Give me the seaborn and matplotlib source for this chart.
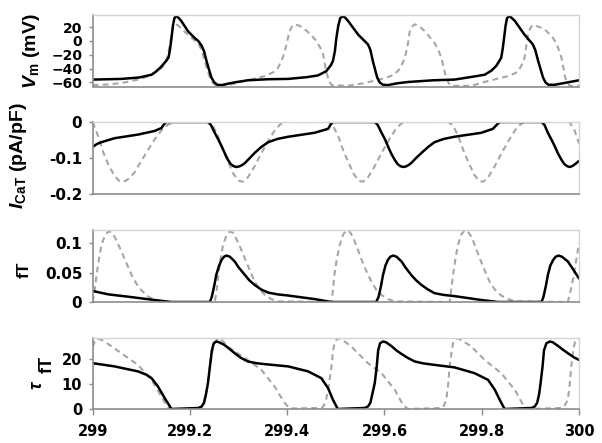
import numpy as np
import pandas as pd
import matplotlib
matplotlib.use("Agg")
import matplotlib.pyplot as plt
import seaborn as sns

# ---------------- data (time offsets in s after 299 s) ----------------
T0 = 299.0

vm_solid_t = [0.000, 0.059, 0.095, 0.121, 0.130, 0.140, 0.151, 0.156, 0.159, 0.162, 0.165, 0.168, 0.172,
              0.177, 0.182, 0.196, 0.210, 0.217, 0.224, 0.229, 0.234, 0.244, 0.250, 0.256, 0.265, 0.278,
              0.292, 0.319, 0.360, 0.402, 0.440, 0.463, 0.480, 0.490, 0.494, 0.498, 0.501, 0.505, 0.509,
              0.515, 0.520, 0.525, 0.546, 0.566, 0.571, 0.576, 0.585, 0.590, 0.597, 0.607, 0.625, 0.648,
              0.700, 0.744, 0.780, 0.806, 0.820, 0.830, 0.840, 0.843, 0.846, 0.849, 0.852, 0.857, 0.862,
              0.868, 0.888, 0.905, 0.910, 0.916, 0.926, 0.931, 0.937, 0.950, 0.977, 1.000]
vm_solid = [-56, -55, -53, -49, -44.5, -38, -29, -24, -12, 4, 22, 33, 36,
            33, 29, 14, 4, 0, -7, -15, -29, -53, -60, -63.5, -64, -62,
            -60, -57, -55.5, -55, -52.5, -50, -44, -35, -29, -15, 4, 22, 33,
            36, 33, 29, 9, -5, -13, -29, -53, -60, -63.5, -64, -61.5, -59.5,
            -57, -56, -52, -49, -43, -36, -24.5, -12, 4.5, 22, 33, 36, 33,
            29, 9, -5, -13, -29, -53, -60, -63.5, -63.5, -60, -57]

vm_dash_t = [0.000, 0.032, 0.059, 0.093, 0.115, 0.127, 0.140, 0.148, 0.155, 0.160, 0.164, 0.168, 0.175,
             0.185, 0.196, 0.217, 0.224, 0.230, 0.241, 0.247, 0.253, 0.278, 0.313, 0.354, 0.372, 0.381,
             0.390, 0.395, 0.400, 0.405, 0.410, 0.415, 0.425, 0.436, 0.450, 0.460, 0.468, 0.474, 0.480,
             0.486, 0.491, 0.525, 0.559, 0.600, 0.620, 0.632, 0.642, 0.648, 0.652, 0.657, 0.662, 0.672,
             0.683, 0.703, 0.710, 0.717, 0.727, 0.732, 0.737, 0.779, 0.813, 0.854, 0.868, 0.875, 0.882,
             0.888, 0.892, 0.895, 0.900, 0.905, 0.915, 0.929, 0.945, 0.953, 0.958, 0.964, 0.972, 0.977,
             0.981, 1.000]
vm_dash = [-64, -63, -61, -56, -51, -46, -40, -34, -20, 0, 18, 24, 23,
           16, 9, -4, -13, -29, -53, -61, -64, -64, -58, -51, -45, -39,
           -26, -15, 0, 14, 21, 24, 22, 17, 8, 0, -10, -20, -44,
           -58, -64, -65, -61, -54, -49, -40, -24.5, -5, 14, 21, 24, 21,
           14, -3, -12, -24.5, -54, -61, -65, -65, -58, -51, -47, -44, -35,
           -24.5, -5, 9, 19, 23, 21, 17, 6, -3, -12, -24.5, -54, -61,
           -65, -65]

ica_solid_t = [0.000, 0.009, 0.018, 0.045, 0.093, 0.127, 0.141, 0.147, 0.151, 0.237, 0.243, 0.251, 0.258,
               0.265, 0.272, 0.278, 0.284, 0.290, 0.296, 0.302, 0.308, 0.313, 0.323, 0.333, 0.347, 0.361,
               0.380, 0.402, 0.456, 0.484, 0.490, 0.494, 0.580, 0.586, 0.594, 0.601, 0.607, 0.614, 0.621,
               0.627, 0.633, 0.639, 0.645, 0.650, 0.655, 0.665, 0.676, 0.690, 0.703, 0.722, 0.744, 0.799,
               0.823, 0.832, 0.837, 0.923, 0.929, 0.936, 0.943, 0.950, 0.957, 0.964, 0.970, 0.976, 0.981,
               0.987, 0.993, 1.000]
ica_solid = [-0.069, -0.061, -0.056, -0.045, -0.035, -0.025, -0.017, -0.006, 0, 0, -0.008, -0.030, -0.048,
             -0.067, -0.088, -0.105, -0.117, -0.123, -0.125, -0.123, -0.119, -0.114, -0.100, -0.086, -0.069, -0.056,
             -0.047, -0.041, -0.030, -0.019, -0.006, 0, 0, -0.008, -0.030, -0.048, -0.067, -0.088, -0.105,
             -0.117, -0.123, -0.125, -0.123, -0.119, -0.114, -0.100, -0.086, -0.069, -0.056, -0.047, -0.041, -0.030,
             -0.019, -0.006, 0, 0, -0.008, -0.030, -0.048, -0.067, -0.088, -0.105, -0.117, -0.123, -0.125,
             -0.122, -0.116, -0.108]

ica_dash_t = [0.000, 0.011, 0.022, 0.032, 0.045, 0.055, 0.063, 0.072, 0.086, 0.100, 0.114, 0.128, 0.141,
              0.155, 0.169, 0.237, 0.247, 0.258, 0.268, 0.278, 0.290, 0.300, 0.308, 0.317, 0.330, 0.347,
              0.362, 0.375, 0.386, 0.395, 0.484, 0.494, 0.505, 0.515, 0.525, 0.537, 0.547, 0.555, 0.564,
              0.577, 0.594, 0.609, 0.622, 0.633, 0.642, 0.731, 0.741, 0.752, 0.762, 0.772, 0.784, 0.794,
              0.802, 0.811, 0.824, 0.841, 0.856, 0.869, 0.880, 0.889, 0.980, 0.990, 1.000]
ica_dash = [0, -0.039, -0.085, -0.118, -0.150, -0.164, -0.166, -0.160, -0.140, -0.108, -0.077, -0.047, -0.024,
            -0.007, 0, 0, -0.010, -0.040, -0.078, -0.110, -0.145, -0.163, -0.166, -0.158, -0.130, -0.086,
            -0.050, -0.022, -0.006, 0, 0, -0.010, -0.040, -0.078, -0.110, -0.145, -0.163, -0.166, -0.158,
            -0.130, -0.086, -0.050, -0.022, -0.006, 0, 0, -0.010, -0.040, -0.078, -0.110, -0.145, -0.163,
            -0.166, -0.158, -0.130, -0.086, -0.050, -0.022, -0.006, 0, 0, -0.020, -0.060]

ft_solid_t = [0.000, 0.032, 0.073, 0.127, 0.162, 0.241, 0.245, 0.250, 0.254, 0.260, 0.265, 0.270, 0.275,
              0.282, 0.292, 0.300, 0.313, 0.322, 0.333, 0.347, 0.361, 0.380, 0.402, 0.456, 0.491, 0.583,
              0.588, 0.593, 0.597, 0.602, 0.607, 0.612, 0.618, 0.625, 0.635, 0.643, 0.655, 0.665, 0.676,
              0.690, 0.703, 0.722, 0.744, 0.799, 0.833, 0.923, 0.927, 0.932, 0.936, 0.941, 0.947, 0.952,
              0.958, 0.965, 0.977, 0.986, 1.000]
ft_solid = [0.0187, 0.013, 0.009, 0.0034, 0, 0, 0.009, 0.028, 0.046, 0.062, 0.0716, 0.077, 0.079,
            0.077, 0.069, 0.059, 0.046, 0.037, 0.029, 0.021, 0.016, 0.013, 0.011, 0.005, 0, 0,
            0.009, 0.028, 0.046, 0.062, 0.0716, 0.077, 0.079, 0.077, 0.069, 0.059, 0.046, 0.037, 0.029,
            0.021, 0.015, 0.012, 0.010, 0.0034, 0, 0, 0.009, 0.028, 0.046, 0.062, 0.0716, 0.077,
            0.079, 0.077, 0.069, 0.058, 0.040]

ft_dash_t = [0.000, 0.004, 0.008, 0.013, 0.018, 0.025, 0.032, 0.038, 0.045, 0.052, 0.059, 0.070, 0.080,
             0.090, 0.100, 0.113, 0.127, 0.148, 0.251, 0.255, 0.258, 0.263, 0.268, 0.275, 0.282, 0.288,
             0.295, 0.304, 0.313, 0.323, 0.333, 0.344, 0.354, 0.367, 0.381, 0.491, 0.494, 0.497, 0.502,
             0.508, 0.515, 0.522, 0.528, 0.535, 0.543, 0.552, 0.562, 0.573, 0.583, 0.594, 0.607, 0.621,
             0.734, 0.737, 0.741, 0.746, 0.751, 0.758, 0.765, 0.771, 0.779, 0.787, 0.796, 0.806, 0.816,
             0.827, 0.840, 0.854, 0.868, 0.977, 0.983, 0.988, 0.994, 1.000]
ft_dash = [0, 0.020, 0.046, 0.074, 0.097, 0.113, 0.120, 0.119, 0.111, 0.099, 0.086, 0.065, 0.046,
           0.031, 0.020, 0.010, 0.0034, 0, 0, 0.020, 0.046, 0.074, 0.097, 0.113, 0.120, 0.118,
           0.108, 0.092, 0.074, 0.054, 0.035, 0.021, 0.012, 0.005, 0.001, 0, 0.020, 0.046, 0.074,
           0.097, 0.115, 0.122, 0.120, 0.111, 0.094, 0.074, 0.054, 0.035, 0.021, 0.012, 0.005, 0.001,
           0, 0.020, 0.046, 0.074, 0.097, 0.115, 0.122, 0.120, 0.111, 0.094, 0.074, 0.054, 0.035,
           0.021, 0.011, 0.005, 0.001, 0, 0.020, 0.040, 0.070, 0.100]

tau_solid_t = [0.000, 0.045, 0.093, 0.110, 0.121, 0.134, 0.148, 0.162, 0.217, 0.224, 0.229, 0.233, 0.237,
               0.241, 0.245, 0.249, 0.254, 0.260, 0.271, 0.282, 0.292, 0.305, 0.319, 0.336, 0.354, 0.402,
               0.443, 0.470, 0.484, 0.494, 0.504, 0.559, 0.566, 0.571, 0.575, 0.580, 0.584, 0.587, 0.591,
               0.597, 0.603, 0.614, 0.624, 0.635, 0.648, 0.662, 0.680, 0.703, 0.744, 0.785, 0.813, 0.827,
               0.837, 0.847, 0.902, 0.909, 0.914, 0.918, 0.921, 0.925, 0.928, 0.933, 0.940, 0.946, 0.957,
               0.967, 0.977, 0.990, 1.000]
tau_solid = [18.4, 17.1, 15.1, 13.8, 12.4, 9.1, 4.4, 0, 0.4, 1.0, 2.5, 6, 10.4,
             17, 23.5, 26.4, 27.1, 26.8, 25.7, 24, 22.4, 20.5, 19.1, 18.4, 18.0, 17.1,
             15.1, 12.4, 8.4, 3.7, 0, 0.4, 1.0, 2.5, 6, 10.4, 17, 23.5, 26.4,
             27.1, 26.8, 25.3, 23.6, 22.1, 20.5, 19.1, 18.3, 17.7, 16.7, 14.4, 11.7, 7.7,
             3.7, 0, 0.4, 1.0, 2.5, 6, 10.4, 17, 23.5, 26.4, 27.1, 26.8, 25.3,
             23.8, 22.4, 20.7, 19.7]

tau_dash_t = [0.000, 0.004, 0.010, 0.021, 0.040, 0.059, 0.093, 0.121, 0.141, 0.152, 0.158, 0.217, 0.224,
              0.230, 0.236, 0.241, 0.246, 0.251, 0.256, 0.261, 0.270, 0.278, 0.313, 0.347, 0.374, 0.388,
              0.395, 0.405, 0.470, 0.475, 0.480, 0.486, 0.491, 0.494, 0.497, 0.502, 0.508, 0.520, 0.532,
              0.566, 0.594, 0.621, 0.638, 0.648, 0.717, 0.722, 0.727, 0.731, 0.734, 0.738, 0.741, 0.746,
              0.751, 0.765, 0.779, 0.806, 0.840, 0.868, 0.885, 0.895, 0.964, 0.970, 0.977, 0.981, 0.984,
              0.988, 0.991, 0.995, 1.000]
tau_dash = [25, 27, 28.3, 27.5, 25, 22.4, 17.7, 11.7, 5, 1.5, 0, 0, 0.8,
            3.7, 9, 17, 23, 26.4, 28, 28.4, 26.8, 25, 20.4, 15.7, 9, 4.5,
            2.4, 0.2, 0.4, 1.2, 3.7, 10, 17, 23, 26.4, 28, 28.4, 26.8, 25,
            18.4, 14.4, 7.7, 1.7, 0, 0.4, 1.2, 3.7, 10, 17, 23, 26.4, 28,
            28.4, 26.8, 25, 19.7, 14.4, 7.7, 1.7, 0, 0.4, 1.2, 3.7, 10, 17,
            23, 26.4, 28, 28.4]

x_ticks = [299, 299.2, 299.4, 299.6, 299.8, 300]
x_ticklabels = ["299", "299.2", "299.4", "299.6", "299.8", "300"]
vm_ticks = [-60, -40, -20, 0, 20]
ica_ticks = [-0.2, -0.1, 0]
ica_ticklabels = ["-0.2", "-0.1", "0"]
ft_ticks = [0, 0.05, 0.1]
ft_ticklabels = ["0", "0.05", "0.1"]
tau_ticks = [0, 10, 20]

# ---------------- style ----------------
sns.set_theme(style="white")
plt.rcParams["font.family"] = ["Liberation Sans", "DejaVu Sans"]
plt.rcParams["font.weight"] = "bold"
plt.rcParams["text.color"] = "black"
plt.rcParams["mathtext.fontset"] = "custom"
plt.rcParams["mathtext.rm"] = "Liberation Sans:bold"
plt.rcParams["mathtext.it"] = "Liberation Sans:italic:bold"
plt.rcParams["mathtext.bf"] = "Liberation Sans:bold"
HAS_BFIT = "mathtext.bfit" in plt.rcParams
if HAS_BFIT:
    plt.rcParams["mathtext.bfit"] = "Liberation Sans:bold:italic"

TICK_FAMILY = ["DejaVu Sans"]

W, H = 602, 443
fig = plt.figure(figsize=(W / 100, H / 100), dpi=100)

x_left, x_right = 92.7, 579.0
panels = [  # top px, bottom px
    (15.0, 86.5),
    (122.0, 194.0),
    (230.0, 302.0),
    (338.0, 409.0),
]
ytick_sizes = [10.0, 11.0, 11.0, 10.5]

series = [
    (vm_solid_t, vm_solid, vm_dash_t, vm_dash, (-66, 37.5), vm_ticks, None),
    (ica_solid_t, ica_solid, ica_dash_t, ica_dash, (-0.2, 0.0), ica_ticks, ica_ticklabels),
    (ft_solid_t, ft_solid, ft_dash_t, ft_dash, (0, 0.1225), ft_ticks, ft_ticklabels),
    (tau_solid_t, tau_solid, tau_dash_t, tau_dash, (0, 28.5), tau_ticks, None),
]

DASH_COL = "#a6a6a6"
for i, ((top, bot), (st, sv, dt, dv, ylim, yt, ytl)) in enumerate(zip(panels, series)):
    ax = fig.add_axes([x_left / W, 1 - bot / H, (x_right - x_left) / W, (bot - top) / H])
    ddf = pd.DataFrame({"t": T0 + np.array(dt), "v": dv})
    sdf = pd.DataFrame({"t": T0 + np.array(st), "v": sv})
    sns.lineplot(data=ddf, x="t", y="v", ax=ax, color=DASH_COL, linewidth=1.5,
                 linestyle=(0, (2.8, 2.0)), estimator=None, sort=False)
    sns.lineplot(data=sdf, x="t", y="v", ax=ax, color="black", linewidth=1.8,
                 estimator=None, sort=False)
    for ln in ax.lines:
        ln.set_solid_joinstyle("round")
        ln.set_dash_joinstyle("round")
    ax.set_xlim(299, 300)
    ax.set_ylim(*ylim)
    ax.set_yticks(yt)
    if ytl is not None:
        ax.set_yticklabels(ytl)
    ax.set_xlabel("")
    ax.set_ylabel("")
    for s in ["top", "right"]:
        ax.spines[s].set_color("#d4d4d4")
        ax.spines[s].set_linewidth(1.0)
    for s in ["left", "bottom"]:
        ax.spines[s].set_color("#8c8c8c")
        ax.spines[s].set_linewidth(1.2)
    ax.tick_params(axis="y", direction="out", length=3, width=1, color="#8c8c8c",
                   labelsize=ytick_sizes[i], labelcolor="black", pad=4.5, left=True)
    for lab in ax.get_yticklabels():
        lab.set_fontweight("bold")
        lab.set_family(TICK_FAMILY)
    if i < 3:
        ax.set_xticks([])
    else:
        ax.set_xticks(x_ticks)
        ax.set_xticklabels(x_ticklabels)
        ax.tick_params(axis="x", direction="out", length=4, width=1, color="#8c8c8c",
                       labelsize=10.5, labelcolor="black", pad=7, bottom=True)
        for lab in ax.get_xticklabels():
            lab.set_fontweight("bold")
            lab.set_family(TICK_FAMILY)
    ax.patch.set_facecolor("white")

# ---------------- y labels ----------------
def ftxt(xp, yp, s, **kw):
    fig.text(xp / W, 1 - yp / H, s, rotation=90, ha="center", va="center", color="black", **kw)

vlab = r"$\mathbfit{V}_{\mathbf{m}}$ (mV)" if HAS_BFIT else r"$V_{\mathbf{m}}$ (mV)"
ftxt(31, 51, vlab, fontsize=14, fontweight="bold")
ilab = r"$\mathbfit{I}_{\mathbf{CaT}}$ (pA/pF)" if HAS_BFIT else r"$I_{\mathbf{CaT}}$ (pA/pF)"
ftxt(19, 156, ilab, fontsize=14, fontweight="bold")
ftxt(24, 270, "fT", fontsize=12.5, fontweight="bold")
ftxt(38, 385, r"$\tau$", fontsize=13, fontweight="normal")
ftxt(47, 364, "fT", fontsize=13, fontweight="bold")

fig.savefig("out.png", dpi=100, facecolor="white")
